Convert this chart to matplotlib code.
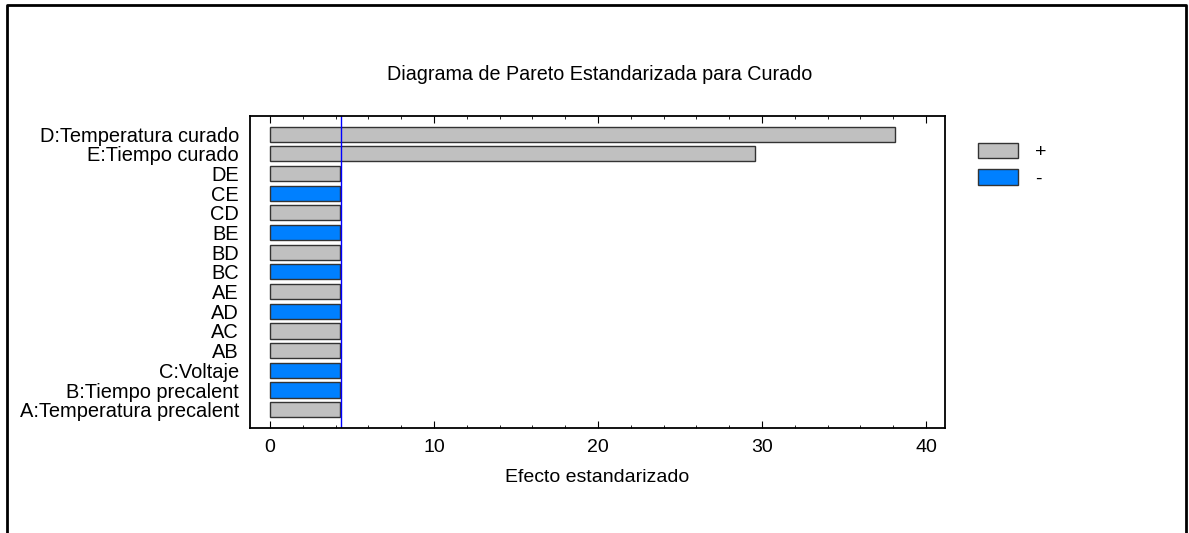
import numpy as np
import matplotlib.pyplot as plt
from matplotlib.patches import Patch
from matplotlib.lines import Line2D
from matplotlib.ticker import MultipleLocator

plt.rcParams['font.family'] = ['Liberation Sans', 'DejaVu Sans']

# effects, bottom to top
factors = ['A:Temperatura precalent', 'B:Tiempo precalent', 'C:Voltaje', 'AB', 'AC',
           'AD', 'AE', 'BC', 'BD', 'BE', 'CD', 'CE', 'DE', 'E:Tiempo curado',
           'D:Temperatura curado']
effects = [4.24, 4.24, 4.24, 4.24, 4.24, 4.24, 4.24, 4.24, 4.24, 4.24, 4.24, 4.24, 4.24,
           29.6, 38.1]
signs = ['+', '-', '-', '+', '+', '-', '+', '-', '+', '-', '+', '-', '+', '+', '+']
critical = 4.30

gray = '#c0c0c0'
blue = '#0080ff'
colors = [gray if s == '+' else blue for s in signs]

fig = plt.figure(figsize=(11.89, 5.33), dpi=100)
ax = fig.add_axes([250 / 1189, 1 - 428 / 533, 695 / 1189, 312 / 533])

y = np.arange(len(factors))
ax.barh(y, effects, height=0.77, color=colors, edgecolor='#333333', linewidth=1)
ax.axvline(critical, color='#0000ff', linewidth=1)

ax.set_yticks(y)
ax.set_yticklabels(factors, fontsize=14.4)
ax.tick_params(axis='y', length=0, pad=8)
ax.set_ylim(-0.93, len(factors) - 1 + 0.92)
ax.set_xlim(-1.22, 41.16)
ax.xaxis.set_major_locator(MultipleLocator(10))
ax.xaxis.set_minor_locator(MultipleLocator(2))
ax.tick_params(axis='x', which='major', direction='in', length=5, top=True, labelsize=14, pad=8)
ax.tick_params(axis='x', which='minor', direction='in', length=2.5, top=True)
ax.set_xlabel('Efecto estandarizado', fontsize=14, labelpad=9)
for s in ax.spines.values():
    s.set_linewidth(1.3)

fig.text(600 / 1189, 1 - 75 / 533, 'Diagrama de Pareto Estandarizada para Curado',
         ha='center', va='center', fontsize=14.2)

handles = [Patch(facecolor=gray, edgecolor='#333333', label='+'),
           Patch(facecolor=blue, edgecolor='#333333', label='-')]
fig.legend(handles=handles, loc='upper left', bbox_to_anchor=(964 / 1189, 1 - 129 / 533),
           frameon=False, fontsize=14, handlelength=2.06, handleheight=0.86,
           labelspacing=0.42, handletextpad=0.9, borderpad=0.2)

# outer frame
fig.add_artist(Line2D([7 / 1189, 7 / 1189, 1186 / 1189, 1186 / 1189],
                      [0, 1 - 5 / 533, 1 - 5 / 533, 0], color='black', linewidth=2,
                      transform=fig.transFigure))

plt.savefig('out.png', dpi=100)
